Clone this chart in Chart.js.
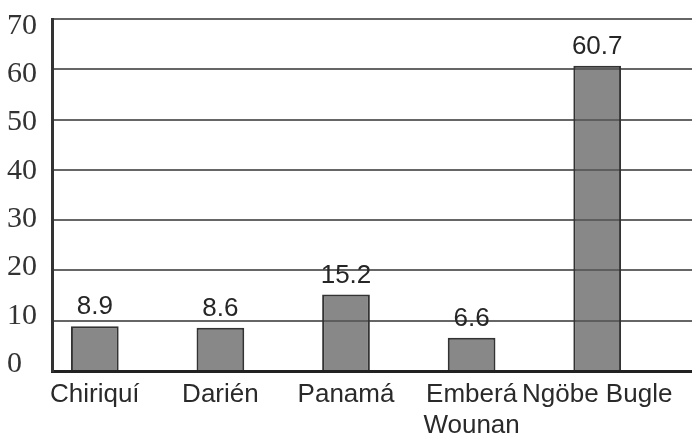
<!DOCTYPE html>
<html>
<head>
<meta charset="utf-8">
<script src="https://cdn.jsdelivr.net/npm/chart.js@4/dist/chart.umd.min.js"></script>
<style>
  html, body { margin: 0; padding: 0; background: #fff; }
  #wrap { width: 692px; height: 435px; position: relative; }
</style>
</head>
<body>
<div id="wrap"><canvas id="c"></canvas></div>
<script>
const categories = ['Chiriquí', 'Darién', 'Panamá', ['Emberá', 'Wounan'], 'Ngöbe Bugle'];
const values = [8.9, 8.6, 15.2, 6.6, 60.7];
const valueLabels = ['8.9', '8.6', '15.2', '6.6', '60.7'];
const yTicks = [0, 10, 20, 30, 40, 50, 60, 70];

const valueLabelPlugin = {
  id: 'valueLabels',
  afterDatasetsDraw(chart) {
    const ctx = chart.ctx;
    const meta = chart.getDatasetMeta(0);
    ctx.save();
    ctx.font = '26px "Liberation Sans", Arial, sans-serif';
    ctx.fillStyle = '#262626';
    ctx.textAlign = 'center';
    ctx.textBaseline = 'bottom';
    meta.data.forEach((bar, i) => {
      ctx.fillText(valueLabels[i], bar.x, bar.y - 6);
    });
    ctx.restore();
  }
};

// narrow the category band of the x scale (layout only) so bars sit like the original
const xBandPlugin = {
  id: 'xBand',
  afterLayout(chart) {
    const s = chart.scales.x;
    s._startPixel = 32;
    s._endPixel = 660;
    s._length = 628;
  }
};

new Chart(document.getElementById('c'), {
  type: 'bar',
  data: {
    labels: categories,
    datasets: [{
      data: values,
      backgroundColor: 'rgba(90,90,90,0.72)',
      borderColor: '#333',
      borderWidth: 2,
      categoryPercentage: 1,
      barPercentage: 0.38
    }]
  },
  options: {
    responsive: true,
    maintainAspectRatio: false,
    animation: false,
    devicePixelRatio: 1,
    layout: { padding: { top: 19, right: 0, left: 7, bottom: 0 } },
    plugins: { legend: { display: false }, tooltip: { enabled: false } },
    scales: {
      x: {
        grid: { display: false, drawTicks: false },
        border: { color: '#222', width: 3 },
        ticks: {
          color: '#2a2a2a',
          font: { family: '"Liberation Sans", Arial, sans-serif', size: 26, lineHeight: 1.19 },
          padding: 8,
          maxRotation: 0,
          autoSkip: false
        },
        afterFit(scale) { scale.height = 64; scale.paddingLeft = 0; scale.paddingRight = 0; }
      },
      y: {
        position: 'left',
        weight: 0,
        min: 0, max: 70,
        afterBuildTicks(scale) { scale.ticks = yTicks.map(v => ({ value: v })); },
        grid: { color: '#666', lineWidth: 2, drawTicks: false },
        border: { color: '#333', width: 3 },
        ticks: { display: false },
        afterFit(scale) { scale.width = 0; scale.paddingTop = 0; scale.paddingBottom = 0; }
      },
      yLabels: {
        type: 'linear',
        position: 'left',
        weight: 1,
        min: -1.45, max: 71.45,
        afterBuildTicks(scale) { scale.ticks = yTicks.map(v => ({ value: v })); },
        grid: { display: false, drawTicks: false },
        border: { display: false },
        ticks: {
          color: '#333',
          crossAlign: 'far',
          padding: 8,
          font: { family: '"Liberation Serif", "Times New Roman", serif', size: 30 }
        },
        afterFit(scale) { scale.width = 45; scale.paddingTop = 0; scale.paddingBottom = 0; }
      }
    }
  },
  plugins: [valueLabelPlugin, xBandPlugin]
});
</script>
</body>
</html>
